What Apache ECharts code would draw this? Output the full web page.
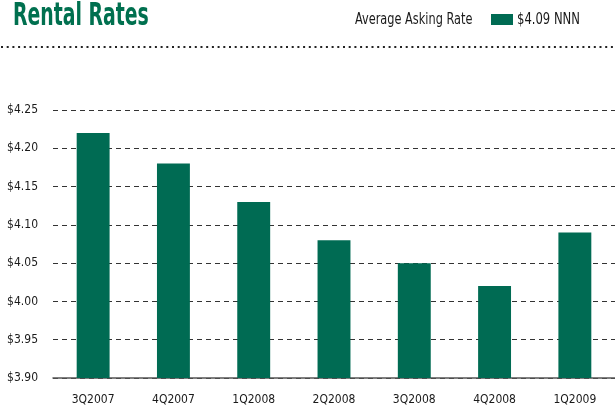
<!DOCTYPE html>
<html><head><meta charset="utf-8">
<script src="https://cdn.jsdelivr.net/npm/echarts@6/dist/echarts.min.js"></script>
<style>html,body{margin:0;padding:0;background:#fff}#c{width:615px;height:406px}</style>
</head><body><div id="c"></div>
<script>
const categories = ['3Q2007','4Q2007','1Q2008','2Q2008','3Q2008','4Q2008','1Q2009'];
const rates = [4.22, 4.18, 4.13, 4.08, 4.05, 4.02, 4.09];
const seriesName = '$4.09 NNN';
const legendLabel = 'Average Asking Rate';
const titleText = 'Rental Rates';

const FONT = "'Liberation Sans Narrow', 'DejaVu Sans Condensed', sans-serif";
const GREEN = '#006b53';
const chart = echarts.init(document.getElementById('c'), null, {renderer:'canvas'});
chart.setOption({
  animation:false,
  legend:{left:486, top:9, itemWidth:22, itemHeight:11, icon:'rect', selectedMode:false,
    formatter:()=>'', textStyle:{fontSize:1}, data:[seriesName]},
  graphic:[
    {type:'text', x:13, y:17, scaleX:0.655, style:{text:titleText, font:"bold 32px "+FONT, fill:'#00704f', verticalAlign:'middle'}},
    {type:'text', x:355, y:20, scaleX:0.84, style:{text:legendLabel, font:"15px "+FONT, fill:'#1a1a1a', verticalAlign:'middle'}},
    {type:'text', x:517, y:20, scaleX:0.86, style:{text:seriesName, font:"15px "+FONT, fill:'#1a1a1a', verticalAlign:'middle'}},
    {type:'line', shape:{x1:1,y1:47,x2:615,y2:47}, style:{stroke:'#222', lineWidth:2, lineDash:[2,3.7]}}
  ],
  grid:{left:53, right:-3, top:110, bottom:28},
  xAxis:{type:'category', data:categories,
    axisLine:{lineStyle:{color:'#555', width:1.5}}, axisTick:{show:false},
    axisLabel:{fontFamily:FONT, fontSize:12, color:'#1a1a1a', margin:16}},
  yAxis:{type:'value', min:3.9, max:4.25, interval:0.05,
    axisLine:{show:false}, axisTick:{show:false},
    axisLabel:{fontFamily:FONT, fontSize:12, color:'#1a1a1a', margin:15, formatter:v=>'$'+v.toFixed(2)},
    splitLine:{lineStyle:{color:'#333', type:[5,4], width:1}}},
  series:[{name:seriesName, type:'bar', data:rates, barWidth:'41%', itemStyle:{color:GREEN}}]
});
</script></body></html>
